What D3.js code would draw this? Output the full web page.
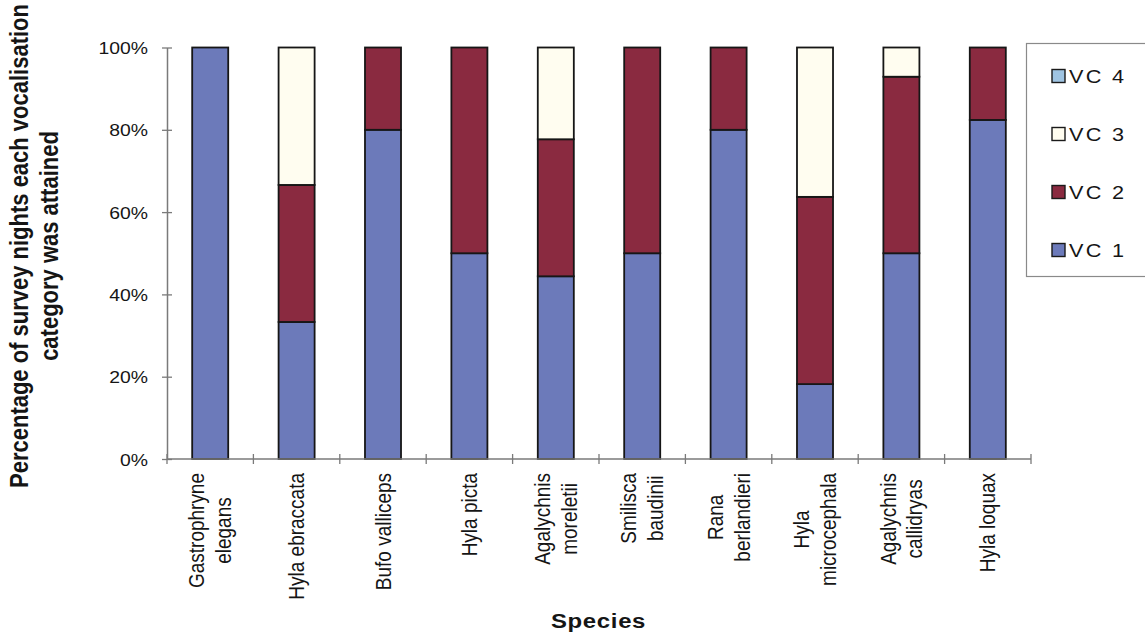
<!DOCTYPE html>
<html>
<head>
<meta charset="utf-8">
<script src="https://cdn.jsdelivr.net/npm/d3@7"></script>
<style>
  html, body { margin: 0; padding: 0; background: #fff; }
  svg { display: block; font-family: "Liberation Sans", Arial, Helvetica, sans-serif; }
</style>
</head>
<body>
<svg id="chart" width="1145" height="639"></svg>
<script>
// Species (line breaks as shown under the axis)
const species = [
  ["Gastrophryne", "elegans"],
  ["Hyla ebraccata"],
  ["Bufo valliceps"],
  ["Hyla picta"],
  ["Agalychnis", "moreletii"],
  ["Smilisca", "baudinii"],
  ["Rana", "berlandieri"],
  ["Hyla", "microcephala"],
  ["Agalychnis", "callidryas"],
  ["Hyla loquax"]
];

// Percentage of survey nights at each vocalisation category
const vc1 = [100, 33.3, 80, 50, 44.4, 50, 80, 18.2, 50, 82.4];
const vc2 = [0, 33.3, 20, 50, 33.3, 50, 20, 45.5, 42.9, 17.6];
const vc3 = [0, 33.4, 0, 0, 22.3, 0, 0, 36.3, 7.1, 0];
const vc4 = [0, 0, 0, 0, 0, 0, 0, 0, 0, 0];

const seriesNames = ["VC 1", "VC 2", "VC 3", "VC 4"];
const seriesColors = ["#6c7aba", "#8a2a40", "#fffdf0", "#9fc4e2"];
const yTicks = [0, 20, 40, 60, 80, 100];

const svg = d3.select("#chart");
const textColor = "#151515";
const axisColor = "#7a7a7a";
const sx = 1.14; // horizontal widening of the lettering

const plotLeft = 167, plotRight = 1031, plotTop = 47.5, plotBottom = 459;

const keys = species.map(s => s.join(" "));
const rows = keys.map((k, i) => ({ key: k, "VC 1": vc1[i], "VC 2": vc2[i], "VC 3": vc3[i], "VC 4": vc4[i] }));

const x = d3.scaleBand().domain(keys).range([plotLeft, plotRight]).paddingInner(0.583).paddingOuter(0.2915);
const y = d3.scaleLinear().domain([0, 100]).range([plotBottom, plotTop]);
const color = d3.scaleOrdinal().domain(seriesNames).range(seriesColors);

const stacked = d3.stack().keys(seriesNames)(rows);

// Stacked bars
svg.append("g").selectAll("g")
  .data(stacked)
  .join("g")
  .attr("fill", d => color(d.key))
  .selectAll("rect")
  .data(d => d.filter(p => p[1] - p[0] > 0))
  .join("rect")
  .attr("x", d => x(d.data.key))
  .attr("width", x.bandwidth())
  .attr("y", d => y(d[1]))
  .attr("height", d => y(d[0]) - y(d[1]))
  .attr("stroke", "#161616")
  .attr("stroke-width", 1.8);

// Y axis with ticks crossing the line
const yAxis = svg.append("g").attr("transform", `translate(${plotLeft},0)`)
  .call(d3.axisLeft(y).tickValues(yTicks).tickFormat(d => d + "%").tickSizeInner(5).tickSizeOuter(0).tickPadding(14));
yAxis.select(".domain").attr("stroke", axisColor).attr("stroke-width", 1.5);
yAxis.selectAll(".tick line").attr("stroke", axisColor).attr("stroke-width", 1.3).attr("x1", 5);
yAxis.selectAll(".tick text")
  .attr("fill", textColor)
  .attr("font-size", 17)
  .attr("x", -19 / sx)
  .attr("transform", `scale(${sx},1)`)
  .attr("dy", "0.36em");

// X axis: category boundary ticks crossing the baseline
const xAxisG = svg.append("g");
xAxisG.append("line")
  .attr("x1", plotLeft).attr("x2", plotRight)
  .attr("y1", plotBottom).attr("y2", plotBottom)
  .attr("stroke", axisColor).attr("stroke-width", 1.5);
const boundaries = keys.map(k => x(k) - x.step() * x.paddingInner() / 2);
boundaries.push(plotRight);
xAxisG.selectAll("line.tk")
  .data(boundaries)
  .join("line")
  .attr("class", "tk")
  .attr("x1", d => d).attr("x2", d => d)
  .attr("y1", plotBottom - 5).attr("y2", plotBottom + 5)
  .attr("stroke", axisColor).attr("stroke-width", 1.3);

// Category labels, rotated, centred block with its top at the axis
const labelTop = 473;
const lineGap = 26.7 / sx;
species.forEach((lines, i) => {
  const cx = x(keys[i]) + x.bandwidth() / 2;
  const g = svg.append("g").attr("transform", `translate(${cx},${labelTop}) scale(${sx},1) rotate(-90)`);
  const texts = g.selectAll("text")
    .data(lines)
    .join("text")
    .attr("fill", textColor)
    .attr("font-size", 19)
    .attr("text-anchor", "middle")
    .attr("y", (d, j) => (j - (lines.length - 1) / 2) * lineGap)
    .attr("dy", "0.35em")
    .text(d => d);
  let w = 0;
  texts.each(function () { w = Math.max(w, this.getComputedTextLength()); });
  texts.attr("x", -w / 2);
});

// Axis titles
svg.append("g").attr("transform", `translate(598.5,628) scale(${sx},1)`)
  .append("text")
  .attr("text-anchor", "middle")
  .attr("font-size", 21).attr("font-weight", "bold")
  .attr("letter-spacing", 0.6)
  .attr("fill", textColor)
  .text("Species");

const yTitle = ["Percentage of survey nights each vocalisation", "category was attained"];
svg.append("g").attr("transform", `scale(${sx},1) rotate(-90)`)
  .selectAll("text")
  .data(yTitle)
  .join("text")
  .attr("x", -246)
  .attr("y", (d, i) => (28 + i * 30) / sx)
  .attr("text-anchor", "middle")
  .attr("font-size", 22).attr("font-weight", "bold")
  .attr("fill", textColor)
  .text(d => d);

// Legend (top to bottom: VC 4 .. VC 1)
const legend = svg.append("g");
legend.append("rect")
  .attr("x", 1026.5).attr("y", 43.5)
  .attr("width", 130).attr("height", 233)
  .attr("fill", "#fff").attr("stroke", "#8a8a8a").attr("stroke-width", 1.2);
const legendOrder = seriesNames.slice().reverse();
const items = legend.selectAll("g.item")
  .data(legendOrder)
  .join("g")
  .attr("class", "item")
  .attr("transform", (d, i) => `translate(1052,${76 + i * 58})`);
items.append("rect")
  .attr("x", 0).attr("y", -6.5)
  .attr("width", 13).attr("height", 13)
  .attr("fill", d => color(d))
  .attr("stroke", "#1a1a1a").attr("stroke-width", 1.4);
items.append("text")
  .attr("x", 17 / sx).attr("y", 0).attr("dy", "0.36em")
  .attr("transform", `scale(${sx},1)`)
  .attr("font-size", 19)
  .attr("letter-spacing", 2)
  .attr("fill", textColor)
  .text(d => d);
</script>
</body>
</html>
